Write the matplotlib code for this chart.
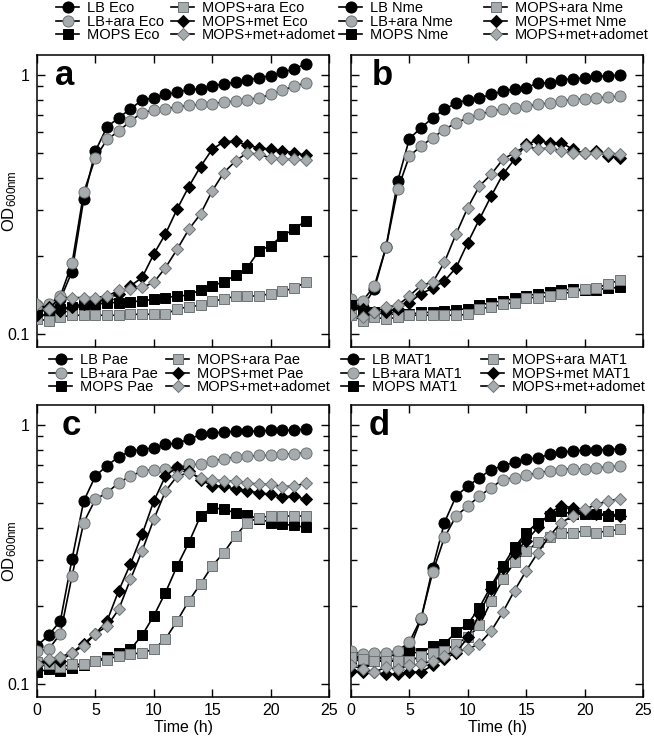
import matplotlib
matplotlib.use('Agg')
import matplotlib.pyplot as plt
from matplotlib.ticker import FixedLocator, NullFormatter

# time points (h)
hours = list(range(24))

# panel a - Eco
lb_eco = [0.127, 0.127, 0.136, 0.174, 0.331, 0.507, 0.629, 0.681, 0.738, 0.797, 0.813, 0.838,
          0.855, 0.876, 0.881, 0.902, 0.921, 0.934, 0.951, 0.971, 0.991, 1.02, 1.05, 1.10]
lbara_eco = [0.129, 0.130, 0.140, 0.187, 0.351, 0.478, 0.562, 0.605, 0.662, 0.713, 0.729, 0.738,
             0.751, 0.760, 0.767, 0.773, 0.783, 0.790, 0.801, 0.813, 0.838, 0.870, 0.902, 0.929]
mops_eco = [0.118, 0.119, 0.125, 0.127, 0.129, 0.130, 0.132, 0.132, 0.133, 0.134, 0.136, 0.138,
            0.140, 0.141, 0.148, 0.153, 0.159, 0.168, 0.180, 0.209, 0.219, 0.239, 0.253, 0.273]
mopsara_eco = [0.114, 0.1125, 0.116, 0.118, 0.118, 0.118, 0.118, 0.118, 0.119, 0.119, 0.119, 0.119,
               0.125, 0.127, 0.129, 0.134, 0.136, 0.140, 0.140, 0.140, 0.143, 0.146, 0.150, 0.158]
met_eco = [0.118, 0.127, 0.123, 0.127, 0.130, 0.132, 0.136, 0.143, 0.153, 0.165, 0.203, 0.243,
           0.303, 0.370, 0.442, 0.515, 0.551, 0.554, 0.533, 0.522, 0.515, 0.507, 0.500, 0.488]
adomet_eco = [0.130, 0.125, 0.138, 0.138, 0.138, 0.138, 0.140, 0.147, 0.149, 0.151, 0.158, 0.180,
              0.212, 0.253, 0.290, 0.356, 0.419, 0.464, 0.500, 0.492, 0.478, 0.471, 0.471, 0.468]

# panel b - Nme
lb_nme = [0.130, 0.127, 0.149, 0.216, 0.389, 0.566, 0.624, 0.681, 0.734, 0.778, 0.797, 0.813,
          0.838, 0.863, 0.881, 0.889, 0.929, 0.929, 0.957, 0.962, 0.971, 0.985, 0.991, 0.994]
lbara_nme = [0.136, 0.134, 0.153, 0.216, 0.361, 0.485, 0.530, 0.571, 0.614, 0.652, 0.681, 0.702,
             0.723, 0.734, 0.744, 0.755, 0.767, 0.778, 0.790, 0.801, 0.806, 0.813, 0.818, 0.826]
mops_nme = [0.129, 0.123, 0.121, 0.119, 0.119, 0.119, 0.121, 0.121, 0.123, 0.124, 0.125, 0.129,
            0.132, 0.134, 0.137, 0.140, 0.143, 0.145, 0.147, 0.149, 0.148, 0.148, 0.150, 0.151]
mopsara_nme = [0.118, 0.1125, 0.116, 0.114, 0.116, 0.118, 0.118, 0.118, 0.118, 0.118, 0.119, 0.125,
               0.127, 0.130, 0.132, 0.138, 0.138, 0.140, 0.143, 0.145, 0.149, 0.150, 0.156, 0.161]
met_nme = [0.127, 0.125, 0.121, 0.121, 0.125, 0.132, 0.143, 0.150, 0.160, 0.180, 0.225, 0.277,
           0.340, 0.412, 0.471, 0.538, 0.559, 0.543, 0.546, 0.515, 0.497, 0.507, 0.485, 0.478]
adomet_nme = [0.118, 0.116, 0.121, 0.127, 0.129, 0.140, 0.154, 0.158, 0.189, 0.243, 0.307, 0.372,
              0.412, 0.471, 0.500, 0.530, 0.515, 0.522, 0.507, 0.500, 0.500, 0.497, 0.500, 0.492]

# panel c - Pae
lb_pae = [0.140, 0.154, 0.175, 0.303, 0.507, 0.633, 0.695, 0.751, 0.790, 0.801, 0.813, 0.838,
          0.850, 0.876, 0.916, 0.929, 0.934, 0.943, 0.943, 0.943, 0.951, 0.951, 0.951, 0.962]
lbara_pae = [0.134, 0.136, 0.156, 0.261, 0.419, 0.515, 0.546, 0.597, 0.633, 0.662, 0.671, 0.675,
             0.681, 0.702, 0.702, 0.723, 0.738, 0.751, 0.755, 0.760, 0.760, 0.767, 0.773, 0.778]
mops_pae = [0.111, 0.114, 0.1125, 0.115, 0.118, 0.123, 0.127, 0.132, 0.136, 0.154, 0.183, 0.225,
            0.285, 0.351, 0.444, 0.478, 0.471, 0.457, 0.447, 0.434, 0.419, 0.412, 0.409, 0.401]
mopsara_pae = [0.121, 0.119, 0.116, 0.119, 0.119, 0.123, 0.124, 0.1285, 0.130, 0.132, 0.136, 0.149,
               0.175, 0.209, 0.243, 0.285, 0.321, 0.372, 0.419, 0.438, 0.444, 0.444, 0.444, 0.444]
met_pae = [0.118, 0.123, 0.122, 0.132, 0.143, 0.156, 0.175, 0.229, 0.290, 0.377, 0.507, 0.633,
           0.687, 0.662, 0.614, 0.579, 0.579, 0.562, 0.554, 0.546, 0.538, 0.527, 0.530, 0.515]
adomet_pae = [0.119, 0.125, 0.127, 0.132, 0.140, 0.156, 0.167, 0.194, 0.253, 0.326, 0.431, 0.554,
              0.633, 0.652, 0.624, 0.614, 0.605, 0.605, 0.597, 0.588, 0.588, 0.576, 0.579, 0.593]

# panel d - MAT1
lb_mat1 = [0.130, 0.125, 0.127, 0.125, 0.132, 0.136, 0.178, 0.281, 0.419, 0.530, 0.579, 0.624,
           0.671, 0.692, 0.716, 0.734, 0.744, 0.767, 0.783, 0.790, 0.797, 0.801, 0.801, 0.806]
lbara_mat1 = [0.134, 0.130, 0.132, 0.132, 0.134, 0.145, 0.179, 0.270, 0.367, 0.444, 0.485, 0.530,
              0.571, 0.614, 0.624, 0.637, 0.652, 0.662, 0.671, 0.675, 0.675, 0.681, 0.687, 0.692]
mops_mat1 = [0.125, 0.122, 0.123, 0.122, 0.123, 0.132, 0.132, 0.140, 0.143, 0.158, 0.170, 0.197,
             0.239, 0.285, 0.336, 0.383, 0.419, 0.444, 0.464, 0.451, 0.451, 0.451, 0.444, 0.451]
mopsara_mat1 = [0.127, 0.125, 0.122, 0.123, 0.122, 0.122, 0.1285, 0.132, 0.134, 0.143, 0.151, 0.168,
                0.209, 0.253, 0.294, 0.326, 0.351, 0.367, 0.383, 0.383, 0.389, 0.383, 0.389, 0.394]
met_mat1 = [0.1125, 0.111, 0.111, 0.109, 0.109, 0.111, 0.111, 0.118, 0.125, 0.132, 0.151, 0.186,
            0.232, 0.281, 0.321, 0.356, 0.401, 0.457, 0.485, 0.478, 0.457, 0.451, 0.451, 0.444]
adomet_mat1 = [0.118, 0.114, 0.111, 0.116, 0.114, 0.118, 0.119, 0.123, 0.1285, 0.134, 0.136, 0.143,
               0.160, 0.189, 0.229, 0.273, 0.321, 0.372, 0.419, 0.444, 0.471, 0.492, 0.507, 0.518]

condition_names = ['LB', 'LB+ara', 'MOPS', 'MOPS+ara', 'MOPS+met', 'MOPS+met+adomet']
x_ticks = [0, 5, 10, 15, 20, 25]

plt.rcParams['font.family'] = ['Liberation Sans', 'DejaVu Sans']
plt.rcParams['mathtext.default'] = 'regular'

GREY = '#a6acad'
# marker, face colour, size
styles = [('o', 'black', 8.0), ('o', GREY, 8.0), ('s', 'black', 7.2),
          ('s', GREY, 7.2), ('D', 'black', 6.2), ('D', GREY, 6.2)]

W, H = 654, 736
fig = plt.figure(figsize=(W / 100, H / 100), dpi=100)


def add_px_axes(left, top, w, h):
    return fig.add_axes([left / W, 1 - (top + h) / H, w / W, h / H])


panels = [
    ('a', 'Eco', [lb_eco, lbara_eco, mops_eco, mopsara_eco, met_eco, adomet_eco],
     (37, 55), (56, 1), (171, 1), 0.062, True, False),
    ('b', 'Nme', [lb_nme, lbara_nme, mops_nme, mopsara_nme, met_nme, adomet_nme],
     (351, 55), (339, 1), (484, 1), 0.072, False, False),
    ('c', 'Pae', [lb_pae, lbara_pae, mops_pae, mopsara_pae, met_pae, adomet_pae],
     (37, 405), (49, 353), (166, 353), 0.085, True, True),
    ('d', 'MAT1', [lb_mat1, lbara_mat1, mops_mat1, mopsara_mat1, met_mat1, adomet_mat1],
     (351, 405), (341, 353), (481, 353), 0.062, False, True),
]

for letter, org, series, (left, top), leg1, leg2, letter_x, ylab, xlab in panels:
    ax = add_px_axes(left, top, 292, 292)
    handles = []
    for i, (vals, (mk, fc, ms)) in enumerate(zip(series, styles)):
        ec = 'black' if fc == 'black' else '#6e7375'
        h, = ax.plot(hours, vals, color='black', lw=1.2, marker=mk, ms=ms,
                     mfc=fc, mec=ec, mew=0.7, zorder=2 + i)
        handles.append(h)

    labels = [f'{c} {org}' for c in condition_names[:5]] + [condition_names[5]]

    ax.set_yscale('log')
    ax.set_ylim(0.089, 1.19)
    ax.set_xlim(0, 25)
    ax.yaxis.set_major_locator(FixedLocator([0.1, 1]))
    ax.yaxis.set_minor_locator(FixedLocator([0.2, 0.3, 0.4, 0.5, 0.6, 0.7, 0.8, 0.9]))
    ax.yaxis.set_minor_formatter(NullFormatter())
    ax.set_xticks(x_ticks)
    ax.tick_params(which='both', direction='in', top=True, right=True, width=1.0, labelsize=11.5)
    ax.tick_params(which='major', length=6)
    ax.tick_params(which='minor', length=4)
    ax.tick_params(axis='y', pad=5)
    ax.tick_params(axis='x', pad=4)
    for sp in ax.spines.values():
        sp.set_linewidth(1.1)

    if ylab:
        ax.set_yticklabels(['0.1', '1'])
        ax.set_ylabel('OD$_{600nm}$', fontsize=12)
        ax.yaxis.set_label_coords(-0.062, 0.5)
    else:
        ax.set_yticklabels([])
    if xlab:
        ax.set_xticklabels([str(v) for v in x_ticks])
        ax.set_xlabel('Time (h)', fontsize=11.5, labelpad=2)
    else:
        ax.set_xticklabels([])

    ax.text(letter_x, 0.897, letter, transform=ax.transAxes, fontsize=25,
            fontweight='bold', va='baseline', ha='left')

    # legend in two columns above the panel
    for idx, (lx, ly) in zip([[0, 1, 2], [3, 4, 5]], [leg1, leg2]):
        fig.legend([handles[k] for k in idx], [labels[k] for k in idx],
                   loc='upper left', bbox_to_anchor=(lx / W, 1 - ly / H),
                   frameon=False, borderpad=0, borderaxespad=0,
                   handlelength=1.6, handletextpad=0.5, labelspacing=-0.02,
                   fontsize=10.5)

fig.savefig('out.png', dpi=100)
